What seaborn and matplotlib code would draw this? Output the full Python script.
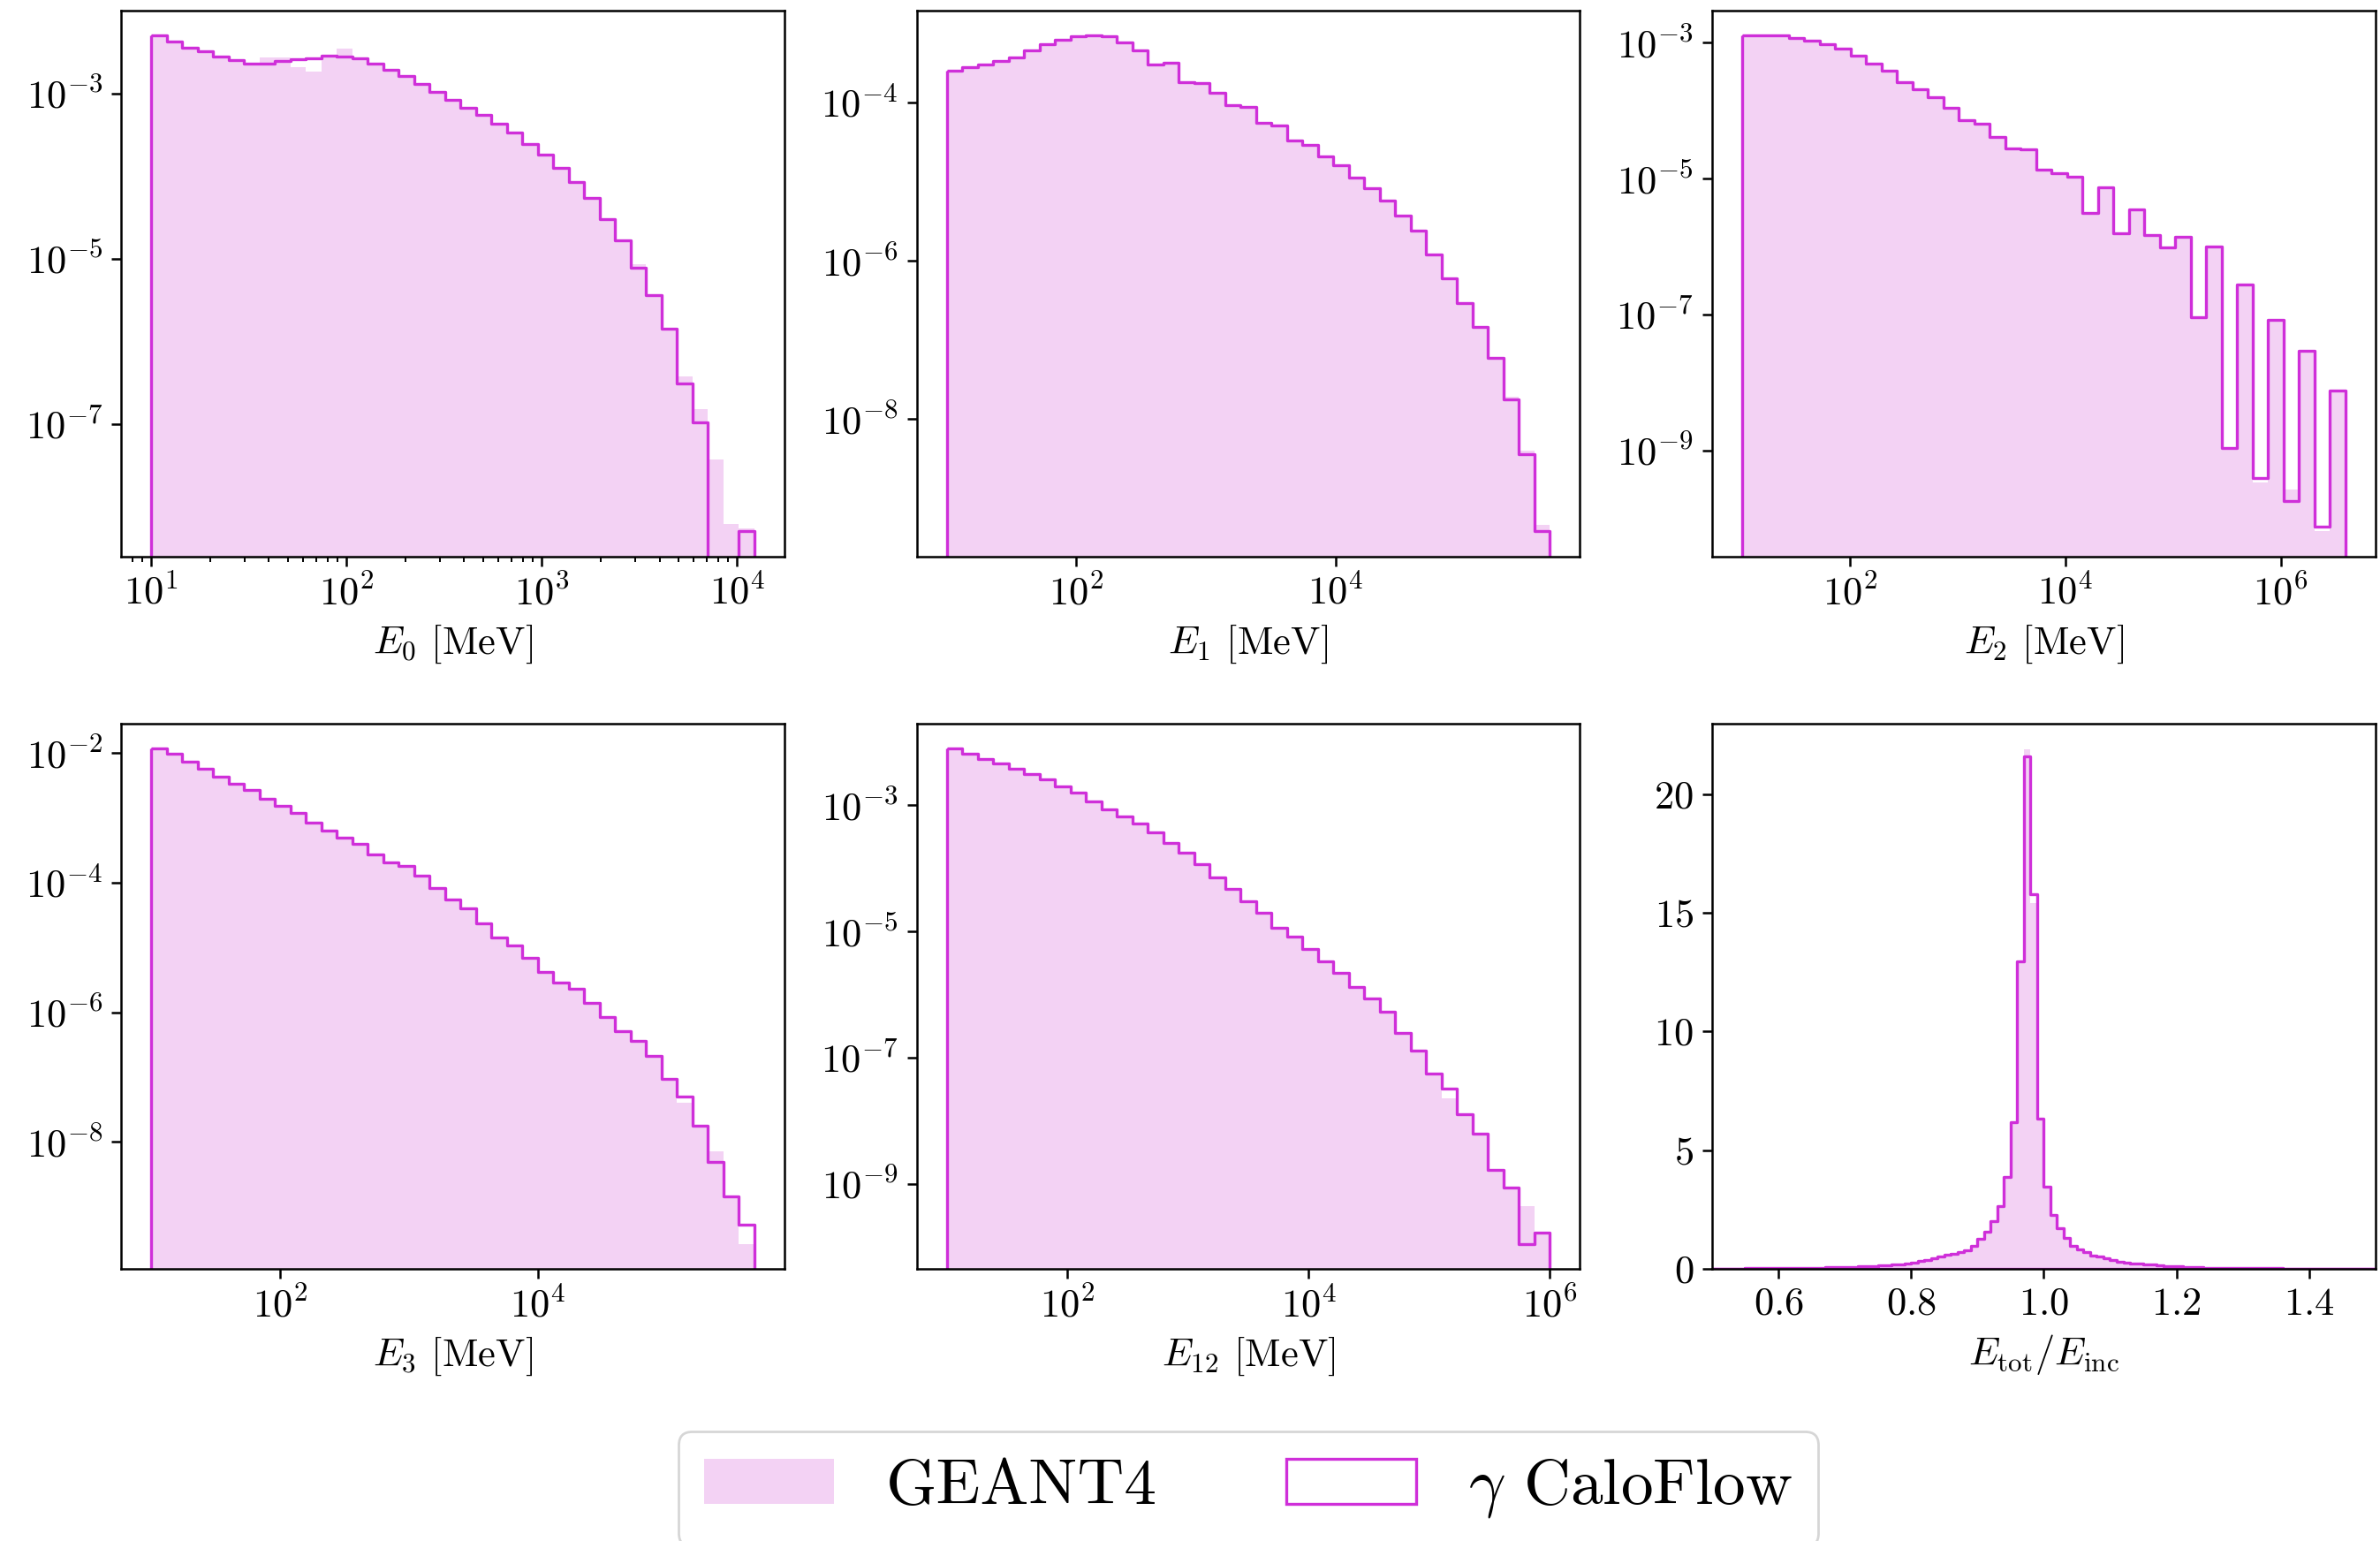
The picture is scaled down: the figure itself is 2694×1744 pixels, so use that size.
import numpy as np
import matplotlib
matplotlib.use("Agg")
import matplotlib.pyplot as plt
from matplotlib.patches import Patch
import seaborn as sns

# ---------------- data (log10 of normalised bin heights) ----------------
# log-binned energy panels: 39 bins between the given decade limits
E0_lim = (1.0, 4.088)
E0_flow = [-2.298, -2.367, -2.446, -2.488, -2.557, -2.594, -2.641, -2.641, -2.609, -2.588,
           -2.578, -2.541, -2.557, -2.578, -2.636, -2.710, -2.784, -2.884, -2.979, -3.074,
           -3.169, -3.264, -3.369, -3.475, -3.607, -3.739, -3.897, -4.066, -4.261, -4.525,
           -4.778, -5.111, -5.443, -5.844, -6.504, -6.979, None, None, -8.298]
E0_g4 = [-2.305, -2.367, -2.446, -2.488, -2.557, -2.594, -2.641, -2.562, -2.562, -2.683,
         -2.736, -2.541, -2.456, -2.570, -2.636, -2.710, -2.784, -2.884, -2.979, -3.074,
         -3.169, -3.264, -3.369, -3.475, -3.607, -3.739, -3.897, -4.066, -4.261, -4.525,
         -4.778, -5.070, -5.443, -5.844, -6.425, -6.821, -7.427, -8.208, -8.260]

E1_lim = (1.0, 5.652)
E1_flow = [-3.597, -3.548, -3.520, -3.476, -3.432, -3.338, -3.261, -3.200, -3.161, -3.150,
           -3.156, -3.239, -3.338, -3.520, -3.498, -3.741, -3.752, -3.879, -4.033, -4.055,
           -4.259, -4.287, -4.480, -4.530, -4.684, -4.794, -4.949, -5.076, -5.241, -5.423,
           -5.617, -5.914, -6.218, -6.532, -6.830, -7.228, -7.752, -8.441, -9.418]
E1_g4 = [-3.590, -3.548, -3.520, -3.476, -3.432, -3.338, -3.261, -3.200, -3.161, -3.150,
         -3.156, -3.239, -3.338, -3.520, -3.498, -3.741, -3.752, -3.879, -4.033, -4.055,
         -4.259, -4.287, -4.480, -4.530, -4.684, -4.794, -4.949, -5.076, -5.241, -5.423,
         -5.617, -5.914, -6.218, -6.532, -6.830, -7.228, -7.713, -8.397, -9.335]

E2_lim = (1.0, 6.600)
E2_flow = [-2.897, -2.897, -2.897, -2.936, -2.968, -3.026, -3.090, -3.199, -3.309, -3.412,
           -3.579, -3.689, -3.804, -3.965, -4.139, -4.190, -4.390, -4.564, -4.577, -4.866,
           -4.924, -4.969, -5.503, -5.124, -5.812, -5.458, -5.831, -6.018, -5.863, -7.035,
           -6.005, -8.965, -6.559, -9.403, -7.080, -9.737, -7.530, -10.124, -8.116]
E2_g4 = [-2.897, -2.897, -2.897, -2.936, -2.968, -3.026, -3.090, -3.199, -3.309, -3.412,
         -3.579, -3.689, -3.804, -3.965, -4.139, -4.190, -4.390, -4.564, -4.577, -4.866,
         -4.924, -4.969, -5.503, -5.124, -5.812, -5.458, -5.831, -6.018, -5.863, -7.050,
         -6.005, -8.965, -6.559, -9.467, -7.080, -9.577, -7.530, -10.190, -8.116]

E3_lim = (1.0, 5.681)
E3_flow = [-1.926, -2.013, -2.141, -2.242, -2.370, -2.471, -2.579, -2.707, -2.815, -2.923,
           -3.077, -3.205, -3.306, -3.407, -3.562, -3.684, -3.751, -3.892, -4.088, -4.256,
           -4.404, -4.626, -4.842, -4.976, -5.165, -5.374, -5.542, -5.643, -5.859, -6.081,
           -6.290, -6.444, -6.673, -7.030, -7.300, -7.744, -8.303, -8.835, -9.273]
E3_g4 = [-1.935, -2.013, -2.141, -2.242, -2.370, -2.471, -2.579, -2.707, -2.815, -2.923,
         -3.077, -3.205, -3.306, -3.407, -3.562, -3.684, -3.751, -3.892, -4.088, -4.256,
         -4.404, -4.626, -4.842, -4.976, -5.165, -5.374, -5.542, -5.643, -5.859, -6.081,
         -6.290, -6.444, -6.673, -7.030, -7.401, -7.744, -8.148, -8.835, -9.576]

E12_lim = (1.0, 6.0)
E12_flow = [-2.092, -2.189, -2.265, -2.335, -2.418, -2.501, -2.584, -2.702, -2.799, -2.945,
            -3.062, -3.173, -3.284, -3.423, -3.596, -3.748, -3.936, -4.137, -4.331, -4.525,
            -4.705, -4.947, -5.086, -5.280, -5.474, -5.661, -5.883, -6.070, -6.278, -6.604,
            -6.888, -7.255, -7.498, -7.900, -8.211, -8.787, -9.057, -9.958, -9.778]
E12_g4 = [-2.100, -2.200, -2.265, -2.335, -2.418, -2.501, -2.584, -2.702, -2.799, -2.945,
          -3.062, -3.173, -3.284, -3.423, -3.596, -3.748, -3.936, -4.137, -4.331, -4.525,
          -4.705, -4.947, -5.086, -5.280, -5.474, -5.661, -5.883, -6.070, -6.278, -6.630,
          -6.888, -7.280, -7.640, -7.900, -8.211, -8.787, -9.057, -9.362, -9.778]

# E_tot / E_inc : 100 linear bins on [0.5, 1.5]
R_lim = (0.5, 1.5)
R_flow = [0.010, 0.012, 0.014, 0.016, 0.018, 0.020, 0.022, 0.024, 0.026, 0.030,
          0.032, 0.035, 0.038, 0.042, 0.046, 0.050, 0.055, 0.060, 0.065, 0.070,
          0.080, 0.090, 0.100, 0.110, 0.120, 0.140, 0.160, 0.180, 0.200, 0.220,
          0.260, 0.320, 0.380, 0.430, 0.530, 0.580, 0.630, 0.700, 0.800, 0.980,
          1.270, 1.560, 2.010, 2.630, 3.880, 6.170, 12.95, 21.60, 15.80, 6.340,
          3.450, 2.260, 1.700, 1.310, 0.970, 0.830, 0.710, 0.570, 0.520, 0.460,
          0.360, 0.300, 0.260, 0.230, 0.210, 0.190, 0.170, 0.150, 0.130, 0.120,
          0.100, 0.090, 0.070, 0.060, 0.055, 0.050, 0.045, 0.040, 0.035, 0.030,
          0.028, 0.026, 0.024, 0.022, 0.020, 0.019, 0.018, 0.017, 0.016, 0.015,
          0.014, 0.013, 0.012, 0.011, 0.010, 0.010, 0.009, 0.009, 0.008, 0.008]
R_g4 = list(R_flow)
R_g4[47] = 21.90
R_g4[48] = 15.40

xlabels = [r"$E_0$ [MeV]", r"$E_1$ [MeV]", r"$E_2$ [MeV]",
           r"$E_3$ [MeV]", r"$E_{12}$ [MeV]", r"$E_{\rm tot}/E_{\rm inc}$"]
legend_labels = ["GEANT4", r"$\gamma$ CaloFlow"]

FILL = "#f3d2f4"
LINE = "#cf2fd9"

# ---------------- style ----------------
plt.rcParams.update({
    "font.family": "serif",
    "font.serif": ["cmr10"],
    "mathtext.fontset": "cm",
    "axes.formatter.use_mathtext": True,
    "axes.unicode_minus": False,
    "font.size": 16,
    "axes.linewidth": 0.9,
    "xtick.major.size": 4, "ytick.major.size": 4,
    "xtick.minor.size": 2.3,
    "xtick.major.width": 0.9, "ytick.major.width": 0.9,
    "xtick.minor.width": 0.7,
})

fig, axes = plt.subplots(2, 3, figsize=(13.47, 8.72), dpi=200)
fig.subplots_adjust(left=0.0509, right=0.9981, bottom=0.1766, top=0.9931,
                    wspace=0.199, hspace=0.306)


def to_lin(vals):
    return np.array([0.0 if v is None else 10.0 ** v for v in vals])


def fill_hist(ax, x, w, bins):
    sns.histplot(x=x, weights=w, bins=bins, element="step", fill=True,
                 stat="count", color=FILL, facecolor=FILL, edgecolor="none",
                 linewidth=0, alpha=1, ax=ax)


def line_hist(ax, x, w, bins):
    sns.histplot(x=x, weights=w, bins=bins, element="step", fill=True,
                 stat="count", color=LINE, facecolor="none", edgecolor=LINE,
                 linewidth=1.2, alpha=1, ax=ax)


def draw_log(ax, lim, g4, flow, xt, yt, minor_x):
    ax.set_xscale("log")
    ax.set_yscale("log")
    log_edges = np.linspace(lim[0], lim[1], len(g4) + 1)
    centers = 10 ** (0.5 * (log_edges[:-1] + log_edges[1:]))
    h_g4, h_fl = to_lin(g4), to_lin(flow)
    bins = [float(b) for b in log_edges]
    fill_hist(ax, centers, h_g4, bins)
    line_hist(ax, centers, h_fl, bins)
    vals = np.concatenate([h_g4[h_g4 > 0], h_fl[h_fl > 0]])
    lo, hi = np.log10(vals.min()), np.log10(vals.max())
    m = 0.05 * (hi - lo)
    ax.set_ylim(10 ** (lo - m), 10 ** (hi + m))
    ax.set_yticks([10.0 ** e for e in yt])
    ax.yaxis.set_minor_locator(matplotlib.ticker.NullLocator())
    ax.set_xticks([10.0 ** e for e in xt])
    if not minor_x:
        ax.xaxis.set_minor_locator(matplotlib.ticker.NullLocator())


panels = [
    (E0_lim, E0_g4, E0_flow, [1, 2, 3, 4], [-3, -5, -7], True),
    (E1_lim, E1_g4, E1_flow, [2, 4], [-4, -6, -8], False),
    (E2_lim, E2_g4, E2_flow, [2, 4, 6], [-3, -5, -7, -9], False),
    (E3_lim, E3_g4, E3_flow, [2, 4], [-2, -4, -6, -8], False),
    (E12_lim, E12_g4, E12_flow, [2, 4, 6], [-3, -5, -7, -9], False),
]
for ax, p in zip(axes.flat[:5], panels):
    draw_log(ax, *p)

# linear ratio panel
ax = axes.flat[5]
r_edges = np.linspace(R_lim[0], R_lim[1], len(R_g4) + 1)
r_cent = 0.5 * (r_edges[:-1] + r_edges[1:])
r_bins = [float(b) for b in r_edges]
fill_hist(ax, r_cent, np.array(R_g4), r_bins)
line_hist(ax, r_cent, np.array(R_flow), r_bins)
ax.set_xlim(*R_lim)
ax.set_xticks([0.6, 0.8, 1.0, 1.2, 1.4])
ax.set_yticks([0, 5, 10, 15, 20])

for ax, lab in zip(axes.flat, xlabels):
    ax.set_xlabel(lab, fontsize=16)
    ax.set_ylabel("")
    ax.tick_params(labelsize=16)

handles = [Patch(facecolor=FILL, edgecolor="none"),
           Patch(facecolor="none", edgecolor=LINE, linewidth=1.2)]
fig.legend(handles, legend_labels, loc="upper center", ncol=2,
           bbox_to_anchor=(0.5245, 0.0711), borderaxespad=0.0,
           fontsize=26.4, frameon=True, fancybox=True)

fig.savefig("out.png", dpi=200)
